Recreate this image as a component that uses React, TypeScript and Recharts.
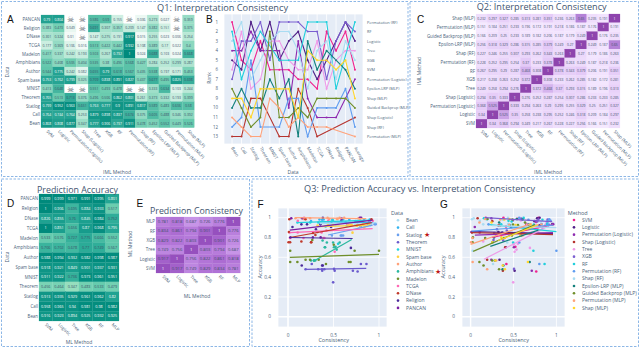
import React from "react";
import { ScatterChart, Scatter, LineChart, Line, XAxis, YAxis, CartesianGrid, ReferenceLine } from "recharts";

const FONT = "'Open Sans', sans-serif";
const INK = "#4a5f7a";

// ---------- labels
const methods = ["SVM","Logistic","Permutation (Logistic)","Shap (Logistic)","Tree","XGB","RF","Permutation (RF)","Shap (RF)","Epsilon-LRP (MLP)","Guided Backprop (MLP)","Permutation (MLP)","Shap (MLP)"];
const datasetsTopDown = ["PANCAN","Religion","DNase","TCGA","Madelon","Amphibians","Author","Spam base","MNIST","Theorem","Statlog","Call","Bean"];
const models = ["SVM","Logistic","Tree","XGB","RF","MLP"];
const modelsTopDown = ["MLP","RF","XGB","Tree","Logistic","SVM"];
const rankCategories = ["Bean","Call","Statlog","Theorem","MNIST","Spam base","Author","Amphibians","Madelon","TCGA","DNase","Religion","PANCAN","Average"];
const rankLabels = ["Permutation (RF)","RF","Logistic","Tree","XGB","SVM","Permutation (Logistic)","Epsilon-LRP (MLP)","Shap (MLP)","Guided Backprop (MLP)","Shap (Logistic)","Shap (RF)","Permutation (MLP)"];

// ---------- panel A: per-dataset interpretation consistency (null = skull)
const consPancan = [0.79,0.804,null,null,0.586,0.59,0.155,null,0.036,0.273,0.027,null,0.359];
const consReligion = [0.383,0.473,0.049,null,0.691,0.307,0.357,0.209,0.147,0.382,0.151,null,0.375];
const consDnase = [0.301,0.324,0.01,null,0.147,0.275,0.191,0.917,0.015,0.255,0.023,0.006,0.254];
const consTcga = [0.177,0.369,0.106,0.016,0.513,0.422,0.442,0.932,0.108,0.389,0.17,0.022,0.4];
const consMadelon = [0.417,0.337,0.242,0.193,0.503,0.267,0.732,1,0.024,0.688,0.103,0.024,0.668];
const consAmphibians = [0.522,0.408,0.505,0.404,0.535,0.38,0.496,0.568,0.427,0.284,0.252,0.299,0.287];
const consAuthor = [0.544,0.775,0.242,0.082,0.655,0.79,0.618,0.567,0.435,0.538,0.197,0.171,0.453];
const consSpam = [0.753,0.762,0.799,0.325,0.709,0.838,0.891,0.827,0.437,0.677,0.495,0.825,0.698];
const consMnist = [0.413,0.648,null,null,0.551,0.493,0.478,null,null,0.333,0.634,0.103,0.244];
const consTheorem = [0.765,0.513,0.713,0.376,0.496,0.506,0.862,0.801,0.261,0.373,0.332,0.193,0.399];
const consStatlog = [0.799,0.952,0.963,0.651,0.763,0.777,0.9,0.891,0.817,0.589,0.483,0.606,0.58];
const consCall = [0.764,0.744,0.764,0.253,0.879,0.898,0.837,0.674,0.375,0.605,0.488,0.346,0.392];
const consBean = [0.868,0.808,0.877,0.347,0.777,0.906,0.737,0.911,0.478,0.452,0.552,0.449,0.526];
const consRows = [consPancan,consReligion,consDnase,consTcga,consMadelon,consAmphibians,consAuthor,consSpam,consMnist,consTheorem,consStatlog,consCall,consBean];

// ---------- panel C
const q2ShapMlp = [0.232,0.297,0.327,0.285,0.313,0.281,0.351,0.236,0.263,0.65,0.235,0.191,1];
const q2PermMlp = [0.151,0.184,0.251,0.233,0.196,0.172,0.191,0.218,0.186,0.187,0.176,1,0.191];
const q2Guided = [0.166,0.209,0.25,0.233,0.189,0.182,0.206,0.187,0.179,0.249,1,0.176,0.235];
const q2Epsilon = [0.256,0.318,0.329,0.286,0.315,0.285,0.379,0.249,0.27,1,0.249,0.187,0.65];
const q2ShapRf = [0.227,0.246,0.255,0.307,0.293,0.262,0.343,0.263,1,0.27,0.179,0.186,0.263];
const q2PermRf = [0.228,0.252,0.295,0.254,0.37,0.233,0.378,1,0.263,0.249,0.187,0.218,0.236];
const q2Rf = [0.267,0.295,0.29,0.287,0.468,0.308,1,0.378,0.343,0.379,0.206,0.191,0.351];
const q2Xgb = [0.217,0.238,0.263,0.252,0.372,1,0.308,0.233,0.262,0.285,0.182,0.172,0.281];
const q2Tree = [0.249,0.258,0.294,0.276,1,0.372,0.468,0.37,0.293,0.315,0.189,0.196,0.313];
const q2ShapLog = [0.294,0.35,0.333,1,0.276,0.252,0.287,0.254,0.307,0.286,0.233,0.233,0.285];
const q2PermLog = [0.368,0.525,1,0.333,0.294,0.263,0.29,0.295,0.255,0.329,0.25,0.251,0.327];
const q2Logistic = [0.34,1,0.525,0.35,0.258,0.238,0.295,0.252,0.246,0.318,0.209,0.184,0.297];
const q2Svm = [1,0.34,0.368,0.294,0.249,0.217,0.267,0.228,0.227,0.256,0.166,0.151,0.232];
const q2Rows = [q2ShapMlp,q2PermMlp,q2Guided,q2Epsilon,q2ShapRf,q2PermRf,q2Rf,q2Xgb,q2Tree,q2ShapLog,q2PermLog,q2Logistic,q2Svm];
const q2RowLabels = ["Shap (MLP)","Permutation (MLP)","Guided Backprop (MLP)","Epsilon-LRP (MLP)","Shap (RF)","Permutation (RF)","RF","XGB","Tree","Shap (Logistic)","Permutation (Logistic)","Logistic","SVM"];

// ---------- panel D
const accPancan = [0.999,0.999,0.971,0.991,0.995,0.801];
const accReligion = [1,0.906,0.695,0.884,0.933,0.517];
const accDnase = [0.826,0.855,0.76,0.845,0.984,0.752];
const accTcga = [1,0.851,0.656,0.87,0.968,0.795];
const accMadelon = [0.533,0.576,0.727,0.775,0.666,0.552];
const accAmphibians = [0.706,0.702,0.678,0.77,0.749,0.567];
const accAuthor = [0.988,0.994,0.932,0.982,0.998,0.987];
const accSpam = [0.918,0.921,0.849,0.901,0.937,0.931];
const accMnist = [0.911,0.922,0.736,0.973,0.961,0.951];
const accTheorem = [0.456,0.464,0.347,0.483,0.533,0.479];
const accStatlog = [0.913,0.935,0.929,0.961,0.962,0.82];
const accCall = [0.958,0.965,0.94,0.981,0.98,0.982];
const accBean = [0.916,0.923,0.894,0.925,0.932,0.925];
const accRows = [accPancan,accReligion,accDnase,accTcga,accMadelon,accAmphibians,accAuthor,accSpam,accMnist,accTheorem,accStatlog,accCall,accBean];

// ---------- panel E
const peMlp = [0.781,0.818,0.687,0.726,0.776,1];
const peRf = [0.834,0.861,0.794,0.901,1,0.776];
const peXgb = [0.829,0.822,0.803,1,0.901,0.726];
const peTree = [0.749,0.756,1,0.803,0.794,0.687];
const peLogistic = [0.917,1,0.756,0.822,0.861,0.818];
const peSvm = [1,0.917,0.749,0.829,0.834,0.781];
const peRows = [peMlp,peRf,peXgb,peTree,peLogistic,peSvm];

// ---------- panel B: rank of each method at each category (null = no value)
const rankSvm = [1,5,6,3,6,6,6,7,7,8,2,4,2,6];
const rankLogistic = [5,6,1,4,1,5,3,2,5,7,5,3,1,3];
const rankPermLog = [4,4,2,4,null,4,10,3,9,11,11,11,null,7];
const rankShapLog = [13,13,9,9,null,13,13,8,10,13,null,null,null,11];
const rankTree = [6,2,8,7,3,3,5,6,6,3,8,5,4,4];
const rankRf = [7,3,3,1,5,1,1,1,2,2,7,3,1,2];
const rankPermRf = [2,7,4,2,null,5,5,5,1,1,1,8,null,1];
const rankShapRf = [12,11,5,12,null,12,9,9,13,10,10,10,8,12];
const rankXgb = [3,1,7,5,3,2,2,4,8,4,3,7,3,5];
const rankEpsilon = [10,8,10,10,7,9,7,13,3,6,4,5,6,8];
const rankGuided = [8,10,12,11,2,11,11,10,11,9,9,9,9,10];
const rankPermMlp = [11,12,13,13,9,10,12,11,12,12,12,null,null,13];
const rankShapMlp = [9,9,11,8,8,8,8,11,4,5,5,6,5,9];
const rankSeries = [rankSvm,rankLogistic,rankPermLog,rankShapLog,rankTree,rankRf,rankPermRf,rankShapRf,rankXgb,rankEpsilon,rankGuided,rankPermMlp,rankShapMlp];
const methodColors = ["#f0228f","#4f1f87","#8e2bb0","#b5332e","#ef9ae8","#7b5fd0","#22cfdc","#5f9cf0","#a9dcf2","#13807c","#6f8f2b","#ffa27a","#ffd62e"];

// ---------- panels F and G
const dataColors = ["#a9dcf2","#35b4ef","#6aa0ef","#6a5acd","#22d3e0","#ffd23f","#ffa27a","#2bb8a0","#6f8f2b","#ff69b4","#c0392b","#4a2a9a","#7b1fa2"];
const dataLegend = ["Bean","Call","Statlog","Theorem","MNIST","Spam base","Author","Amphibians","Madelon","TCGA","DNase","Religion","PANCAN"];
const starred = ["Statlog","Amphibians"];
const methodModel = [0,1,1,1,2,3,4,4,4,5,5,5,5];
// trend end points [x0,y0,x1,y1]
const trendData = [[0.35,0.94,0.97,0.95],[0.35,0.96,0.93,0.95],[0.44,0.825,0.93,0.925],[0.19,0.478,0.86,0.488],[0.1,0.95,0.9,0.975],[0.35,0.91,0.88,0.925],[0.08,1,0.86,0.99],[0.28,0.56,0.7,0.78],[0.02,0.6,1,0.63],[0.02,0.85,0.93,0.89],[0.02,0.8,0.92,0.95],[0.01,0.8,0.71,0.79],[0.02,0.875,0.93,0.975]];
const trendMethod = [[0.25,0.8,0.96,0.93],[0.01,0.86,0.96,0.84],[0.05,0.825,0.96,0.85],[0.01,0.85,0.96,0.83],[0.155,0.58,0.87,0.9],[0.17,1.0,0.95,0.96],[0.22,0.93,1,0.86],[0.01,0.865,0.96,0.925],[0.25,0.92,1,0.9],[0.23,0.71,0.79,0.875],[0.03,0.66,0.75,0.93],[0,0.73,0.71,0.94],[0.32,0.77,0.79,0.93]];

const lerp = (a:number[],b:number[],t:number)=>a.map((v,i)=>Math.round(v+(b[i]-v)*t));
function ramp(stops:[number,number[]][],v:number){
  for(let i=1;i<stops.length;i++){
    if(v<=stops[i][0]){
      const [a,ca]=stops[i-1],[b,cb]=stops[i];
      const c=lerp(ca,cb,Math.max(0,(v-a)/(b-a)));
      return `rgb(${c[0]},${c[1]},${c[2]})`;
    }
  }
  const c=stops[stops.length-1][1];
  return `rgb(${c[0]},${c[1]},${c[2]})`;
}
const tealStops:[number,number[]][]=[[0,[245,251,248]],[0.25,[185,232,214]],[0.5,[108,205,176]],[0.75,[40,165,148]],[1,[0,138,124]]];
const tealD:[number,number[]][]=[[0.35,[150,222,190]],[0.6,[85,196,168]],[0.8,[36,166,148]],[1,[0,138,124]]];
const purpleC:[number,number[]][]=[[0.15,[245,233,255]],[0.4,[226,198,246]],[0.65,[180,130,215]],[1,[142,68,173]]];
const purpleE:[number,number[]][]=[[0.68,[200,150,232]],[0.85,[174,110,212]],[1,[150,80,190]]];

const fs = (n:number)=>Number(n.toFixed(3)).toString();

function Heat({x,y,w,h,rows,rowLabels,colLabels,stops,whiteAbove,fontSize,padL,xLabelFont}:{x:number,y:number,w:number,h:number,rows:(number|null)[][],rowLabels:string[],colLabels:string[],stops:[number,number[]][],whiteAbove:number,fontSize:number,padL:number,xLabelFont:number}){
  const nr=rows.length,nc=colLabels.length,cw=w/nc,ch=h/nr;
  const padB=44,padT=2,padR=36;
  const data:any[]=[];
  rows.forEach((r,ri)=>r.forEach((v,ci)=>data.push({cx0:ci+0.5,ry:ri+0.5,v})));
  const Cell=(p:any)=>{
    const {cx,cy,payload}=p; const v=payload.v;
    const fill=v===null?"#ffffff":ramp(stops,v);
    return <g>
      <rect x={cx-cw/2} y={cy-ch/2} width={cw} height={ch} fill={fill} stroke={fill} strokeWidth={0.2}/>
      {v===null
        ?<text x={cx} y={cy+2.9} textAnchor="middle" fontSize={8} fill="#5f6b70" fontFamily="'DejaVu Sans'">☠</text>
        :<text x={cx} y={cy+1.3} textAnchor="middle" fontSize={fontSize} fill={v>=whiteAbove?"#ffffff":"#3b5068"} fontFamily={FONT}>{fs(v)}</text>}
    </g>;
  };
  const XT=(p:any)=>{
    const lab=colLabels[Math.round(p.payload.value-0.5)];
    return <text transform={`translate(${p.x-1},${p.y-4}) rotate(45)`} fontSize={xLabelFont} fill={INK} fontFamily={FONT}>{lab}</text>;
  };
  const YT=(p:any)=>{
    const lab=rowLabels[Math.round(p.payload.value-0.5)];
    return <text x={p.x+7} y={p.y+1.6} textAnchor="end" fontSize={xLabelFont} fill={INK} fontFamily={FONT}>{lab}</text>;
  };
  return <div style={{position:"absolute",left:x-padL,top:y-padT}}>
    <ScatterChart width={padL+w+padR} height={padT+h+padB} margin={{top:padT,right:padR,bottom:0,left:0}}>
      <XAxis type="number" dataKey="cx0" domain={[0,nc]} ticks={colLabels.map((_,i)=>i+0.5)} interval={0} height={padB} axisLine={false} tickLine={false} tick={XT} allowDecimals/>
      <YAxis type="number" dataKey="ry" reversed domain={[0,nr]} ticks={rowLabels.map((_,i)=>i+0.5)} interval={0} width={padL} axisLine={false} tickLine={false} tick={YT} allowDecimals/>
      <Scatter data={data} isAnimationActive={false} shape={Cell}/>
    </ScatterChart>
  </div>;
}

function RankPanel(){
  const X=224,Y=14,W=139,H=130,padL=14,padR=48,padT=2,padB=26;
  const table=rankCategories.map((c,i)=>{
    const row:any={idx:i,cat:c};
    methods.forEach((m,k)=>{row[m]=rankSeries[k][i];});
    return row;
  });
  const XT=(p:any)=><text transform={`translate(${p.x-1},${p.y-4}) rotate(60)`} fontSize={4.4} fill={INK} fontFamily={FONT}>{rankCategories[p.payload.value]}</text>;
  const RT=(p:any)=><text x={p.x-4} y={p.y+1.5} fontSize={3.9} fill={INK} fontFamily={FONT}>{rankLabels[p.payload.value-1]}</text>;
  return <div style={{position:"absolute",left:X-padL,top:Y-padT}}>
    <LineChart width={padL+W+padR} height={padT+H+padB} data={table} margin={{top:padT,right:0,bottom:0,left:0}}>
      <CartesianGrid stroke="#ffffff" strokeWidth={0.8} fill="#e5ecf6" vertical/>
      <XAxis type="number" dataKey="idx" domain={[-0.85,13.85]} ticks={rankCategories.map((_,i)=>i)} interval={0} height={padB} axisLine={false} tickLine={false} tick={XT}/>
      <YAxis yAxisId="l" type="number" reversed domain={[0.16,13.78]} ticks={rankLabels.map((_,i)=>i+1)} interval={0} width={padL} axisLine={false} tickLine={false} tickMargin={0} tick={{fontSize:4.4,fill:INK,fontFamily:FONT}}/>
      <YAxis yAxisId="r" orientation="right" type="number" reversed domain={[0.16,13.78]} ticks={rankLabels.map((_,i)=>i+1)} interval={0} width={padR} axisLine={false} tickLine={false} tick={RT}/>
      {methods.map((m,k)=><Line key={m} yAxisId={k===0?"r":"l"} dataKey={m} stroke={methodColors[k]} strokeWidth={1.1} connectNulls isAnimationActive={false} dot={{r:1,fill:methodColors[k],stroke:"none"}}/>)}
    </LineChart>
  </div>;
}

function Q3({X,W,xDomain,groups,trends,colors}:{X:number,W:number,xDomain:number[],groups:{x:number,y:number}[][],trends:number[][],colors:string[]}){
  const Y=208,H=119,padL=14,padR=2,padT=2,padB=14;
  return <div style={{position:"absolute",left:X-padL,top:Y-padT}}>
    <ScatterChart width={padL+W+padR} height={padT+H+padB} margin={{top:padT,right:padR,bottom:0,left:0}}>
      <CartesianGrid stroke="#ffffff" strokeWidth={0.8} fill="#e5ecf6"/>
      <XAxis type="number" dataKey="x" domain={xDomain} ticks={[0,0.5,1]} height={padB} axisLine={false} tickLine={false} tick={{fontSize:4.8,fill:INK,fontFamily:FONT}} tickMargin={1} allowDataOverflow/>
      <YAxis type="number" dataKey="y" domain={[-0.104,1.098]} ticks={[0,0.2,0.4,0.6,0.8,1]} width={padL} axisLine={false} tickLine={false} tick={{fontSize:4.8,fill:INK,fontFamily:FONT}} tickMargin={1} allowDataOverflow/>
      <ReferenceLine x={0} stroke="#ffffff" strokeWidth={1.4}/>
      <ReferenceLine y={0} stroke="#ffffff" strokeWidth={1.4}/>
      {groups.map((g,i)=><Scatter key={"p"+i} data={g} fill={colors[i]} isAnimationActive={false} shape={(p:any)=><circle cx={p.cx} cy={p.cy} r={1.3} fill={colors[i]}/>}/>)}
      {trends.map((t,i)=><Scatter key={"t"+i} data={[{x:t[0],y:t[1]},{x:t[2],y:t[3]}]} line={{stroke:colors[i],strokeWidth:1.2}} shape={()=><g/>} isAnimationActive={false}/>)}
    </ScatterChart>
  </div>;
}

const T=({x,y,s,c=INK,a="middle",r,f=FONT,w,len}:{x:number,y:number,s:string,c?:string,a?:string,r?:number,f?:string,w?:number,len?:number})=>
  <text x={r?0:x} y={r?0:y} transform={r?`translate(${x},${y}) rotate(${r})`:undefined} fontSize={w} fill={c} textAnchor={a as any} fontFamily={f} textLength={len} lengthAdjust={len?"spacingAndGlyphs":undefined}>{s}</text>;

export default function App(){
  const dataGroups=dataLegend.map(d=>{
    const ri=datasetsTopDown.indexOf(d);
    const pts:{x:number,y:number}[]=[];
    consRows[ri].forEach((v,m)=>{ if(v!==null) pts.push({x:v,y:accRows[ri][methodModel[m]]}); });
    return pts;
  });
  const methodGroups=methods.map((_,m)=>{
    const pts:{x:number,y:number}[]=[];
    consRows.forEach((row,ri)=>{ const v=row[m]; if(v!==null) pts.push({x:v,y:accRows[ri][methodModel[m]]}); });
    return pts;
  });
  const TITLE="#3f5570";
  return <div style={{position:"absolute",left:0,top:0,width:640,height:348,background:"#fff",overflow:"hidden"}}>
    <Heat x={40.7} y={15} w={153.3} h={112.7} rows={consRows} rowLabels={datasetsTopDown} colLabels={methods} stops={tealStops} whiteAbove={0.72} fontSize={3.4} padL={38} xLabelFont={4.4}/>
    <RankPanel/>
    <Heat x={476} y={14.3} w={144} h={114} rows={q2Rows} rowLabels={q2RowLabels} colLabels={methods} stops={purpleC} whiteAbove={0.9} fontSize={3.3} padL={60} xLabelFont={4.4}/>
    <Heat x={39} y={194} w={80} h={127} rows={accRows} rowLabels={datasetsTopDown} colLabels={models} stops={tealD} whiteAbove={0.78} fontSize={3.7} padL={36} xLabelFont={4.4}/>
    <Heat x={155.7} y={217} w={84.3} h={56} rows={peRows} rowLabels={modelsTopDown} colLabels={models} stops={purpleE} whiteAbove={0.95} fontSize={4.2} padL={24} xLabelFont={4.4}/>
    <Q3 X={278} W={109} xDomain={[-0.11,1.088]} groups={dataGroups} trends={trendData} colors={dataColors}/>
    <Q3 X={462} W={103} xDomain={[-0.1,1.1]} groups={methodGroups} trends={trendMethod} colors={methodColors}/>
    <svg width={640} height={348} style={{position:"absolute",left:0,top:0,pointerEvents:"none"}}>
      <g fill="none" stroke="#8db7e6" strokeWidth={1} strokeDasharray="2.5 1.5">
        <rect x={1.5} y={1.5} width={406.5} height={175}/>
        <rect x={410} y={1.5} width={228.5} height={175}/>
        <rect x={1.5} y={179} width={248} height={167.5}/>
        <rect x={252} y={179} width={386.5} height={167.5}/>
      </g>
      <T x={222.5} y={10.5} s="Q1: Interpretation Consistency" c={TITLE} w={9.5} len={131}/>
      <T x={541.7} y={9.8} s="Q2: Interpretation Consistency" c={TITLE} w={9.5} len={130}/>
      <T x={77.5} y={192.8} s="Prediction Accuracy" c={TITLE} w={9.5} len={81}/>
      <T x={196.5} y={214} s="Prediction Consistency" c={TITLE} w={9.5} len={93}/>
      <T x={419.5} y={191.5} s="Q3: Prediction Accuracy vs. Interpretation Consistency" c={TITLE} w={9.5} len={231}/>
      {[["A",7,23.3],["B",206,23.3],["C",417,23.3],["D",7,207.3],["E",136.5,207.3],["F",257.5,208],["G",440,208]].map(([l,x,y])=><T key={l as string} x={x as number} y={y as number} s={l as string} c="#111" a="start" f="'Liberation Sans', sans-serif" w={10}/>)}
      <T x={117} y={173.5} s="IML Method" w={5}/>
      <T x={9} y={72} s="Data" r={-90} w={5}/>
      <T x={293} y={173.5} s="Data" w={5}/>
      <T x={211} y={78} s="Rank" r={-90} w={5}/>
      <T x={548} y={173.5} s="IML Method" w={5}/>
      <T x={421} y={71} s="IML Method" r={-90} w={5}/>
      <T x={9} y={257} s="Data" r={-90} w={5}/>
      <T x={79} y={343.5} s="ML Method" w={5}/>
      <T x={132} y={244} s="ML Method" r={-90} w={5}/>
      <T x={197} y={298} s="ML Method" w={5}/>
      <T x={262} y={267} s="Accuracy" r={-90} w={5.5}/>
      <T x={333.7} y={342} s="Consistency" w={5.5}/>
      <T x={445} y={267} s="Accuracy" r={-90} w={5.5}/>
      <T x={513.7} y={342} s="Consistency" w={5.5}/>
      <T x={391} y={214.5} s="Data" a="start" w={5.5}/>
      {dataLegend.map((d,i)=>{
        const yy=220.3+i*7.3;
        return <g key={d}>
          <circle cx={398} cy={yy} r={1.3} fill={dataColors[i]}/>
          <T x={406} y={yy+1.8} s={d} a="start" w={5}/>
          {d===starred[0]&&<T x={424} y={yy+2.5} s="★" c="#c01616" a="start" w={7}/>}
          {d===starred[1]&&<T x={434.5} y={yy+2.5} s="★" c="#c01616" a="start" w={7}/>}
        </g>;
      })}
      <T x={567.7} y={214.5} s="Method" a="start" w={5.5}/>
      {methods.map((d,i)=>{
        const yy=220+i*7.33;
        return <g key={d}>
          <circle cx={574} cy={yy} r={1.3} fill={methodColors[i]}/>
          <T x={582} y={yy+1.8} s={d} a="start" w={5}/>
        </g>;
      })}
    </svg>
  </div>;
}
